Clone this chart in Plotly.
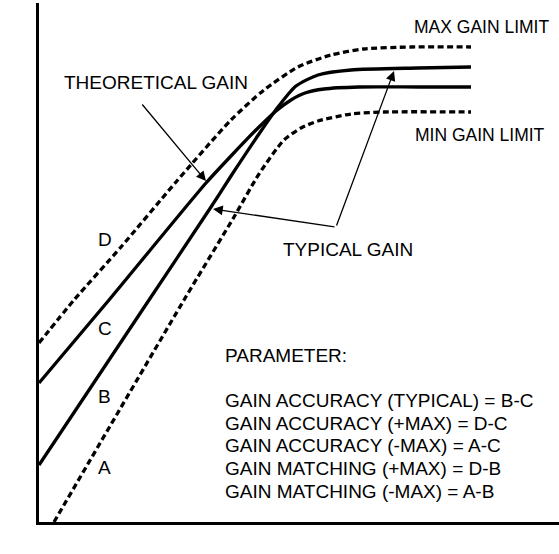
import plotly.graph_objects as go

# Gate voltage (arbitrary units) and gain (arbitrary dB units) for each curve
vg_d = [0, 35, 82, 137, 192, 225, 259, 292, 325, 372, 432]
gain_d = [179, 222, 275, 340, 402, 432, 455, 467, 473, 475, 475]   # D: max gain limit

vg_c = [0, 70, 167, 192, 217, 237, 252, 266, 285, 320, 380, 432]
gain_c = [139, 222, 339, 366, 392, 411, 422, 429, 433, 435, 435, 435]   # C: theoretical gain

vg_b = [0, 110, 172, 192, 222, 239, 257, 279, 312, 379, 432]
gain_b = [57, 222, 315, 346, 391, 415, 436, 447, 452, 454, 455]    # B: typical gain

vg_a = [15, 145, 195, 220, 245, 262, 279, 312, 345, 432]
gain_a = [0, 222, 305, 348, 382, 394, 401, 408, 410, 410]          # A: min gain limit

curve_letters = ["D", "C", "B", "A"]
parameter_lines = [
    "GAIN ACCURACY (TYPICAL) = B-C",
    "GAIN ACCURACY (+MAX) = D-C",
    "GAIN ACCURACY (-MAX) = A-C",
    "GAIN MATCHING (+MAX) = D-B",
    "GAIN MATCHING (-MAX) = A-B",
]

FONT = "Liberation Sans, Arial, sans-serif"
W, H = 559, 554
ML, MR, MT, MB = 39, 0, 3, 32
X_RANGE = [0, W - ML - MR]
Y_RANGE = [0, H - MT - MB]

fig = go.Figure()


def add_curve(x, y, dashed):
    fig.add_trace(go.Scatter(
        x=x, y=y, mode="lines",
        line=dict(color="black", width=3.3, shape="spline", smoothing=0.7,
                  dash="6px,3.5px" if dashed else "solid"),
        hoverinfo="skip", showlegend=False,
    ))


add_curve(vg_d, gain_d, True)
add_curve(vg_c, gain_c, False)
add_curve(vg_b, gain_b, False)
add_curve(vg_a, gain_a, True)

ann = []


def text(x, y, s, size=19, anchor="left"):
    ann.append(dict(x=x, y=y, xref="x", yref="y", text=s, showarrow=False,
                    xanchor=anchor, yanchor="middle",
                    font=dict(family=FONT, size=size, color="black")))


def arrow(tip, tail):
    ann.append(dict(x=tip[0], y=tip[1], ax=tail[0], ay=tail[1],
                    xref="x", yref="y", axref="x", ayref="y", text="",
                    showarrow=True, arrowhead=2, arrowsize=1.5,
                    arrowwidth=1.3, arrowcolor="black", standoff=0))


# curve names
text(373, 495, "MAX GAIN LIMIT", size=17.5)
text(374, 387, "MIN GAIN LIMIT", size=17.5)
text(23, 440, "THEORETICAL GAIN")
text(242, 273, "TYPICAL GAIN")

# arrows to the curves
arrow((167, 341), (102, 419))
arrow((174, 313), (297, 295))
arrow((355, 451), (297, 295))

# curve letters
for letter, y in zip(curve_letters, [283, 194, 126, 55]):
    text(57, y, letter)

# parameter definitions
text(184, 167, "PARAMETER:")
for i, line in enumerate(parameter_lines):
    text(184, 121.5 - 22.7 * i, line)

# axis titles
text(259.5, -21, "V<sub>G</sub> (V)", anchor="center")
ann.append(dict(x=-21, y=274, xref="x", yref="y", text="GAIN (dB)",
                showarrow=False, textangle=-90, xanchor="center",
                yanchor="middle", font=dict(family=FONT, size=15, color="black")))

fig.update_layout(
    width=W, height=H,
    margin=dict(l=ML, r=MR, t=MT, b=MB),
    plot_bgcolor="white", paper_bgcolor="white",
    annotations=ann,
    xaxis=dict(range=X_RANGE, showgrid=False, zeroline=False, showticklabels=False,
               ticks="", showline=True, linecolor="black", linewidth=3),
    yaxis=dict(range=Y_RANGE, showgrid=False, zeroline=False, showticklabels=False,
               ticks="", showline=True, linecolor="black", linewidth=3),
)

fig.write_html("out.html")
